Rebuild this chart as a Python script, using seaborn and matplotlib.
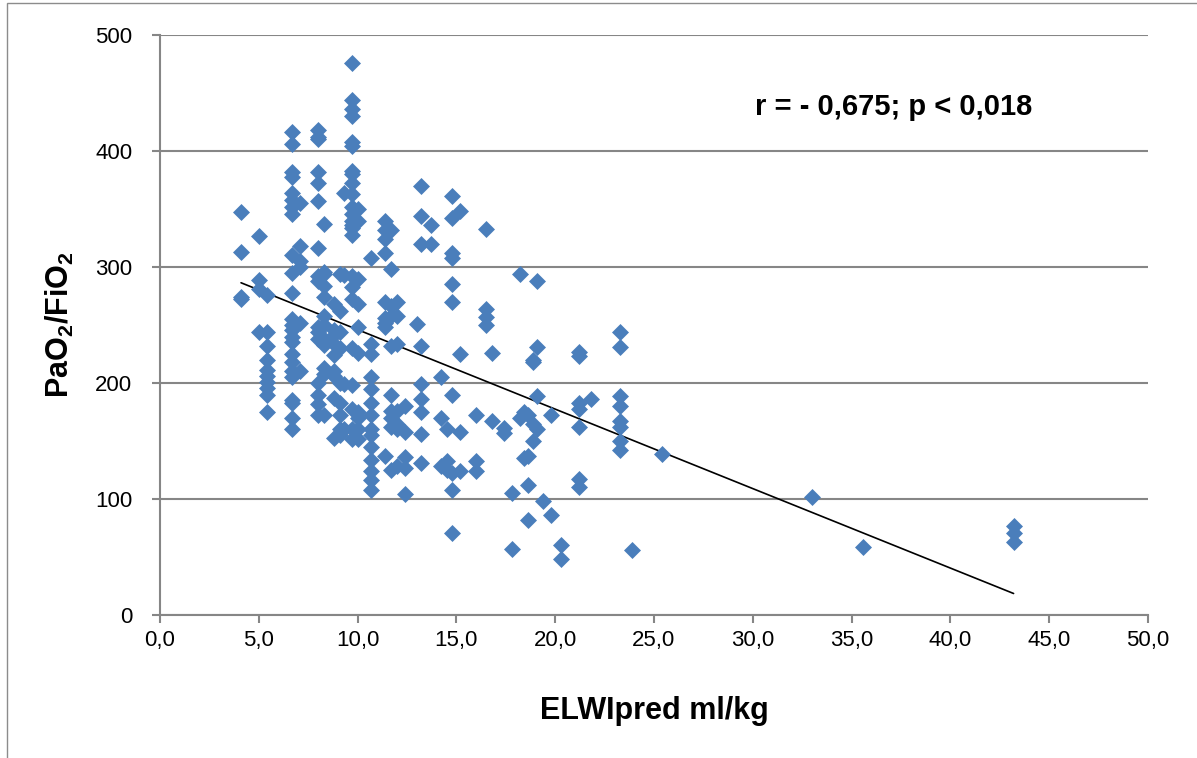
import numpy as np
import pandas as pd
import matplotlib
matplotlib.use("Agg")
import matplotlib.pyplot as plt
import seaborn as sns
from matplotlib.ticker import FuncFormatter
from matplotlib.patches import Rectangle

# ELWIpred (ml/kg) columns and their PaO2/FiO2 values
columns = [
    (4.1, [347, 313, 274, 272]),
    (5.0, [327, 289, 281, 244]),
    (5.4, [276, 244, 232, 220, 211, 206, 201, 196, 190, 175]),
    (6.7, [416, 406, 382, 378, 364, 358, 352, 346, 310, 295, 278, 255, 250,
           246, 240, 235, 225, 218, 210, 205, 185, 183, 170, 160]),
    (7.1, [355, 318, 305, 300, 252, 210]),
    (8.0, [418, 412, 410, 382, 372, 357, 316, 292, 288, 248, 244, 238, 200,
           190, 182, 172]),
    (8.3, [337, 296, 294, 284, 274, 258, 250, 238, 233, 213, 208, 172]),
    (8.8, [268, 246, 241, 234, 224, 210, 206, 187, 153]),
    (9.1, [294, 262, 244, 230, 200, 183, 172, 160, 155]),
    (9.3, [364, 293, 199, 160]),
    (9.7, [476, 444, 436, 430, 408, 404, 383, 380, 372, 363, 352, 346, 340,
           336, 334, 328, 292, 283, 272, 230, 198, 178, 160, 152]),
    (10.0, [350, 340, 290, 268, 248, 226, 175, 170, 160, 152]),
    (10.7, [308, 234, 225, 205, 195, 183, 172, 160, 155, 145, 134, 124, 116,
            108]),
    (11.4, [340, 332, 324, 312, 270, 256, 252, 248, 137]),
    (11.7, [332, 298, 266, 258, 232, 190, 176, 170, 162, 125]),
    (12.0, [270, 258, 234, 176, 165, 160, 128]),
    (12.4, [180, 158, 136, 127, 104]),
    (13.0, [251]),
    (13.2, [370, 344, 320, 232, 199, 186, 175, 156, 131]),
    (13.7, [336, 320]),
    (14.2, [205, 170, 128]),
    (14.5, [160, 133, 125]),
    (14.8, [361, 342, 312, 308, 285, 270, 190, 122, 108, 71]),
    (15.2, [348, 225, 158, 124]),
    (16.0, [172, 133, 124]),
    (16.5, [333, 264, 257, 250]),
    (16.8, [226, 167]),
    (17.4, [161, 157]),
    (17.8, [105, 57]),
    (18.2, [294, 170]),
    (18.4, [175, 135]),
    (18.6, [172, 137, 112, 82]),
    (18.9, [220, 218, 165, 150]),
    (19.1, [288, 231, 189, 160]),
    (19.4, [98]),
    (19.8, [172, 86]),
    (20.3, [60, 48]),
    (21.2, [227, 223, 183, 178, 162, 117, 110]),
    (21.8, [186]),
    (23.3, [244, 231, 189, 180, 167, 162, 150, 142]),
    (23.9, [56]),
    (25.4, [139]),
    (33.0, [102]),
    (35.6, [59]),
    (43.2, [77, 71, 63]),
]

elwi = [x for x, ys in columns for _ in ys]
ratio = [y for _, ys in columns for y in ys]
df = pd.DataFrame({"elwi": elwi, "ratio": ratio})

annotation = "r = - 0,675; p < 0,018"
x_ticks = np.arange(0, 51, 5)
y_ticks = np.arange(0, 501, 100)

sns.set_style("white")
plt.rcParams["font.family"] = ["Liberation Sans", "DejaVu Sans"]
plt.rcParams["text.color"] = "black"
plt.rcParams["axes.labelcolor"] = "black"
plt.rcParams["mathtext.fontset"] = "custom"
plt.rcParams["mathtext.rm"] = "Liberation Sans:bold"
plt.rcParams["mathtext.bf"] = "Liberation Sans:bold"

fig = plt.figure(figsize=(11.97, 7.58), dpi=100)
ax = fig.add_axes([0.1337, 0.1887, 0.959 - 0.1337, 0.9538 - 0.1887])

# outer chart border (only left and top visible in the original)
fig.patches.append(Rectangle((7 / 1197, -0.05), 1.2, 1.05 - 3 / 758,
                             transform=fig.transFigure, fill=False,
                             edgecolor="#8c8c8c", linewidth=1.0))

sns.scatterplot(data=df, x="elwi", y="ratio", marker="D", s=75,
                color="#4a7ebb", linewidth=0, ax=ax, zorder=3)
sns.regplot(data=df, x="elwi", y="ratio", scatter=False, ci=None,
            truncate=True, color="black", line_kws={"linewidth": 1.2},
            ax=ax)

ax.set_xlim(0, 50)
ax.set_ylim(0, 500)
ax.set_xticks(x_ticks)
ax.set_yticks(y_ticks)
ax.xaxis.set_major_formatter(FuncFormatter(lambda v, p: f"{v:.1f}".replace(".", ",")))
ax.yaxis.set_major_formatter(FuncFormatter(lambda v, p: f"{int(v)}"))

ax.grid(axis="y", color="#868686", linewidth=1.5)
ax.grid(axis="x", visible=False)
ax.set_axisbelow(True)

for side in ["top", "right"]:
    ax.spines[side].set_visible(False)
for side in ["left", "bottom"]:
    ax.spines[side].set_color("#868686")
    ax.spines[side].set_linewidth(1.5)

ax.tick_params(axis="both", which="major", direction="out", length=6,
               width=1.5, color="#868686", labelsize=16, labelcolor="black",
               left=True, bottom=True)
ax.tick_params(axis="x", pad=5)
ax.tick_params(axis="y", pad=14)

ax.set_xlabel("ELWIpred ml/kg", fontsize=22, fontweight="bold", labelpad=32)
ax.set_ylabel(r"PaO$_2$/FiO$_2$", fontsize=22, fontweight="bold", labelpad=14)

ax.text(30.1, 438, annotation, fontsize=21, fontweight="bold",
        va="center", ha="left")

fig.savefig("out.png", dpi=100)
